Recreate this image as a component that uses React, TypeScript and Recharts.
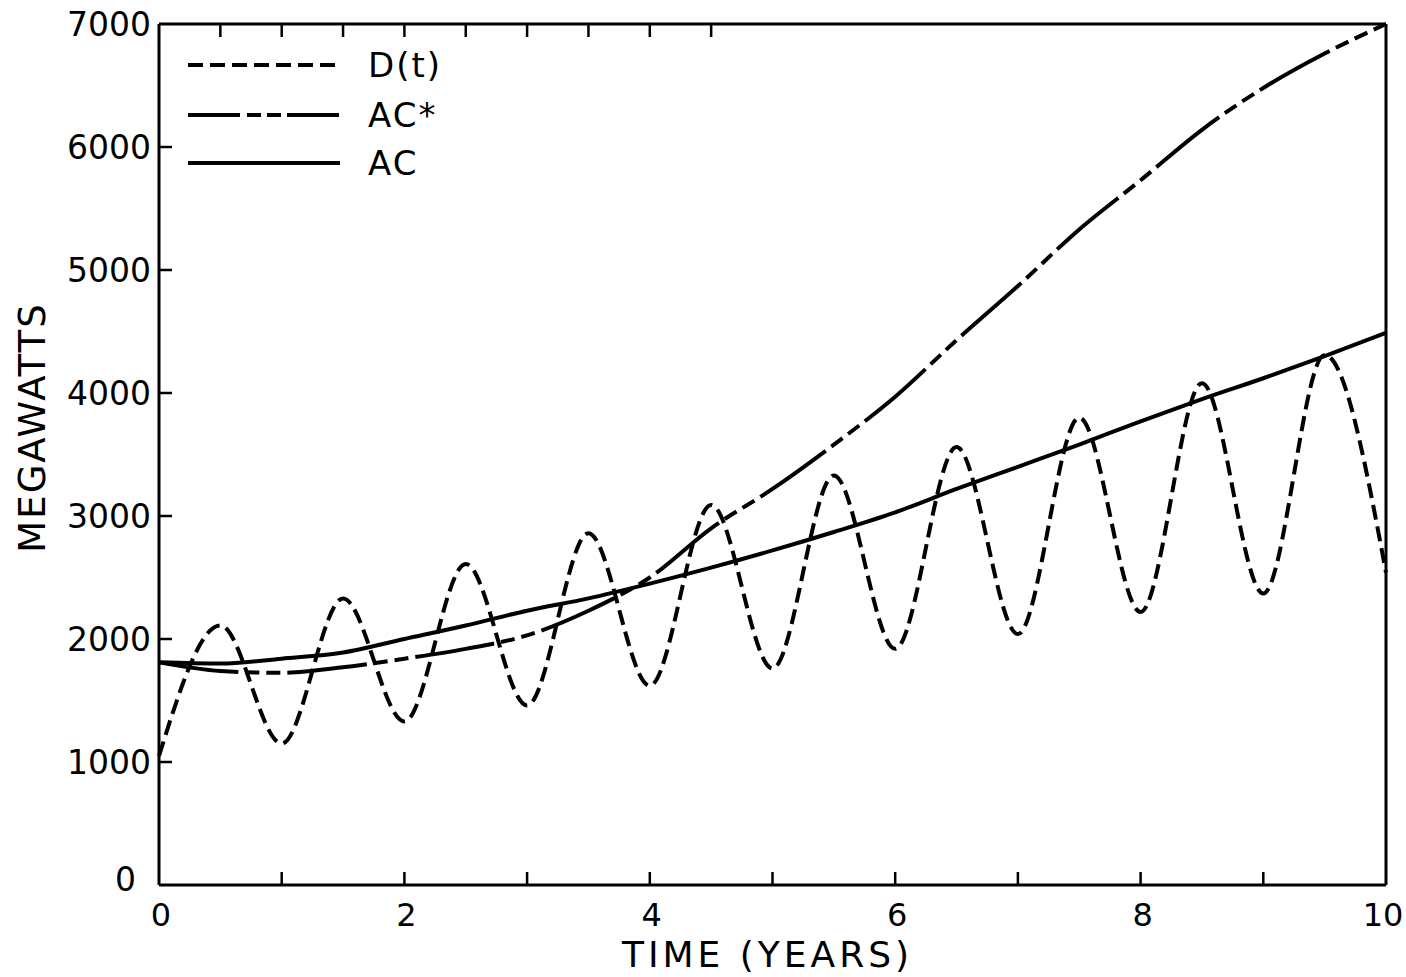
import React from 'react';
import { LineChart, Line, XAxis, YAxis } from 'recharts';

// time in years, one point every half year (peaks and troughs of the demand curve)
const years = [0, 0.5, 1, 1.5, 2, 2.5, 3, 3.5, 4, 4.5, 5, 5.5, 6, 6.5, 7, 7.5, 8, 8.5, 9, 9.5, 10];
const demand = [1050, 2110, 1150, 2330, 1330, 2610, 1460, 2860, 1620, 3090, 1760, 3330, 1920, 3560, 2040, 3800, 2220, 4080, 2370, 4310, 2540];
const acOptimal = [1810, 1740, 1725, 1770, 1840, 1920, 2030, 2230, 2500, 2900, 3220, 3580, 3970, 4430, 4870, 5330, 5730, 6140, 6480, 6760, 7000];
const acActual = [1810, 1800, 1840, 1890, 2000, 2110, 2230, 2330, 2450, 2580, 2720, 2870, 3030, 3220, 3400, 3580, 3770, 3950, 4120, 4300, 4490];

const xTicks = [0, 1, 2, 3, 4, 5, 6, 7, 8, 9, 10];
const yTicks = [0, 1000, 2000, 3000, 4000, 5000, 6000, 7000];

const data = years.map((t, i) => ({ t, d: demand[i], acs: acOptimal[i], ac: acActual[i] }));

const FONT = 'DejaVu Sans';
const INK = '#000';
const LINE_W = 4;

const BottomTick = (props: any) => {
  const { x, y, payload } = props;
  const v = payload.value;
  return (
    <g>
      {v > 0 && v < 10 && <line x1={x} y1={y} x2={x} y2={y - 13} stroke={INK} strokeWidth={2.5} />}
      {v % 2 === 0 && (
        <text x={v === 10 ? x - 3 : x + 2} y={y + 41} textAnchor="middle" fontSize={32} fontFamily={FONT} fill={INK}>
          {v}
        </text>
      )}
    </g>
  );
};

const TopTick = (props: any) => {
  const { x, y, payload } = props;
  const v = payload.value;
  if (v <= 0 || v >= 10) return <g />;
  return <line x1={x} y1={y} x2={x} y2={y + 13} stroke={INK} strokeWidth={2.5} />;
};

const LeftTick = (props: any) => {
  const { x, y, payload } = props;
  const v = payload.value;
  const isZero = v === 0;
  return (
    <g>
      {v > 0 && v < 7000 && <line x1={x} y1={y} x2={x + 13} y2={y} stroke={INK} strokeWidth={2.5} />}
      <text
        x={isZero ? x - 23 : x - 8}
        y={isZero ? y + 6 : y + 12}
        textAnchor="end"
        fontSize={33}
        fontFamily={FONT}
        fill={INK}
      >
        {v}
      </text>
    </g>
  );
};

const RightTick = (props: any) => {
  const { x, y, payload } = props;
  const v = payload.value;
  if (v <= 0 || v >= 7000) return <g />;
  return <line x1={x} y1={y} x2={x - 13} y2={y} stroke={INK} strokeWidth={2.5} />;
};

const YTitle = (props: any) => {
  const { viewBox } = props;
  const cx = viewBox.x + 32;
  const cy = viewBox.y + viewBox.height / 2 - 27;
  return (
    <text
      x={cx}
      y={cy}
      transform={`rotate(-90, ${cx}, ${cy})`}
      textAnchor="middle"
      dominantBaseline="central"
      fontSize={37}
      letterSpacing={2}
      fontFamily={FONT}
      fill={INK}
    >
      MEGAWATTS
    </text>
  );
};

const XTitle = (props: any) => {
  const { viewBox } = props;
  return (
    <text
      x={viewBox.x + viewBox.width / 2 - 5}
      y={viewBox.y + 82}
      textAnchor="middle"
      fontSize={36}
      letterSpacing={4}
      fontFamily={FONT}
      fill={INK}
    >
      TIME (YEARS)
    </text>
  );
};

const legendItems = [
  { label: 'D(t)', dash: '15 7', y: 65 },
  { label: 'AC*', dash: '52 7 14 6 14 6', y: 115 },
  { label: 'AC', dash: undefined, y: 163 },
];

const CurveLegend = () => (
  <svg width={520} height={200} style={{ position: 'absolute', left: 0, top: 0, pointerEvents: 'none' }}>
    {legendItems.map((it) => (
      <g key={it.label}>
        <line x1={188} y1={it.y} x2={340} y2={it.y} stroke={INK} strokeWidth={LINE_W} strokeDasharray={it.dash} />
        <text x={368} y={it.y + 12} fontSize={34} letterSpacing={2} fontFamily={FONT} fill={INK}>
          {it.label}
        </text>
      </g>
    ))}
  </svg>
);

export default function App() {
  return (
    <div style={{ position: 'fixed', left: 0, top: 0, width: 1406, height: 977, background: '#fff' }}>
      <LineChart width={1406} height={977} data={data} margin={{ top: 0, right: 0, bottom: 0, left: 0 }}>
        <XAxis
          dataKey="t"
          type="number"
          domain={[0, 10]}
          ticks={xTicks}
          interval={0}
          height={92}
          tickSize={0}
          tickMargin={0}
          tickLine={false}
          axisLine={{ stroke: INK, strokeWidth: 3 }}
          tick={<BottomTick />}
          label={<XTitle />}
        />
        <XAxis
          xAxisId="top"
          orientation="top"
          type="number"
          domain={[0, 10]}
          ticks={xTicks}
          interval={0}
          height={24}
          tickSize={0}
          tickMargin={0}
          tickLine={false}
          axisLine={{ stroke: INK, strokeWidth: 3 }}
          tick={<TopTick />}
        />
        <YAxis
          type="number"
          domain={[0, 7000]}
          ticks={yTicks}
          interval={0}
          width={159}
          tickSize={0}
          tickMargin={0}
          tickLine={false}
          axisLine={{ stroke: INK, strokeWidth: 3 }}
          tick={<LeftTick />}
          label={<YTitle />}
        />
        <YAxis
          yAxisId="right"
          orientation="right"
          type="number"
          domain={[0, 7000]}
          ticks={yTicks}
          interval={0}
          width={20}
          tickSize={0}
          tickMargin={0}
          tickLine={false}
          axisLine={{ stroke: INK, strokeWidth: 3 }}
          tick={<RightTick />}
        />
        <Line
          type="monotone"
          dataKey="d"
          stroke={INK}
          strokeWidth={LINE_W}
          strokeDasharray="15 7"
          dot={false}
          isAnimationActive={false}
        />
        <Line
          type="monotone"
          dataKey="acs"
          stroke={INK}
          strokeWidth={LINE_W}
          strokeDasharray="80 7 14 7 14 7"
          dot={false}
          isAnimationActive={false}
        />
        <Line
          type="monotone"
          dataKey="ac"
          stroke={INK}
          strokeWidth={LINE_W}
          dot={false}
          isAnimationActive={false}
        />
      </LineChart>
      <CurveLegend />
    </div>
  );
}
